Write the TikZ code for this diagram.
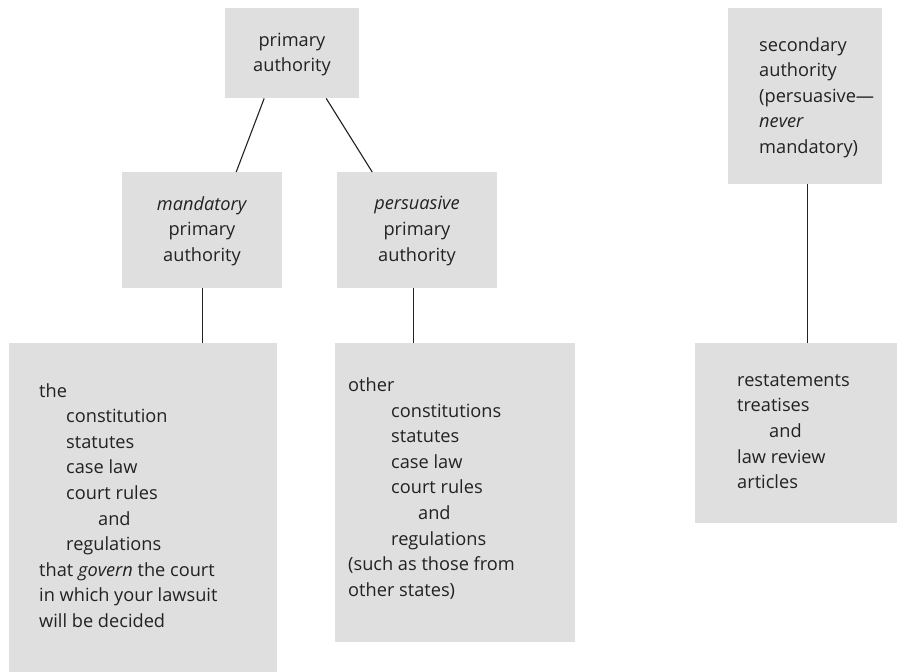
\documentclass[tikz,border=0pt]{standalone}
\usepackage{fontspec}
\setmainfont{Open Sans}
\usetikzlibrary{calc}
\definecolor{boxgrey}{HTML}{DFDFDF}
\definecolor{ink}{HTML}{222222}
\tikzset{
  greybox/.style={fill=boxgrey, draw=none, inner sep=0pt, anchor=north west},
  txt/.style={text=ink, font=\fontsize{18.2}{25.6}\selectfont, inner sep=0pt},
  link/.style={draw=ink, line width=1.1pt}
}
\begin{document}
\begin{tikzpicture}[x=1pt,y=-1pt]
\useasboundingbox (0,0) rectangle (897,672);
% boxes
\node[greybox, minimum width=134pt, minimum height=90pt] (top) at (225,8) {};
\node[greybox, minimum width=160pt, minimum height=116pt] (mand) at (122,172) {};
\node[greybox, minimum width=160pt, minimum height=116pt] (pers) at (337,172) {};
\node[greybox, minimum width=154pt, minimum height=176pt] (sec) at (728,8) {};
\node[greybox, minimum width=268pt, minimum height=332pt] (botL) at (9,343) {};
\node[greybox, minimum width=240pt, minimum height=299pt] (botM) at (335,343) {};
\node[greybox, minimum width=202pt, minimum height=180pt] (botR) at (695,343) {};
% texts
\node[txt, align=center] (topT) at (292,54.5) {primary\\authority};
\node[txt, align=center] (mandT) at (202,231) {\textit{mandatory}\\primary\\authority};
\node[txt, align=center] (persT) at (417,231) {\textit{persuasive}\\primary\\authority};
\node[txt, align=left, anchor=west] (secT) at (759,97.5) {secondary\\authority\\(persuasive\textemdash\\\textit{never}\\mandatory)};
\node[txt, align=left, anchor=west] (botLT) at (39,505.5) {the\\
\hspace*{27pt}constitution\\
\hspace*{27pt}statutes\\
\hspace*{27pt}case law\\
\hspace*{27pt}court rules\\
\hspace*{59pt}and\\
\hspace*{27pt}regulations\\
that \textit{govern} the court\\
in which your lawsuit\\
will be decided};
\node[txt, align=left, anchor=west] (botMT) at (348,488.5) {other\\
\hspace*{43pt}constitutions\\
\hspace*{43pt}statutes\\
\hspace*{43pt}case law\\
\hspace*{43pt}court rules\\
\hspace*{70pt}and\\
\hspace*{43pt}regulations\\
(such as those from\\
other states)};
\node[txt, align=left, anchor=west] (botRT) at (737,431.5) {restatements\\
treatises\\
\hspace*{32pt}and\\
law review\\
articles};
% connectors
\draw[link] ([xshift=-28pt]top.south) -- ([xshift=34pt]mand.north);
\draw[link] ([xshift=34pt]top.south) -- ([xshift=-45pt]pers.north);
\draw[link] (mand.south) -- (mand.south |- botL.north);
\draw[link] ([xshift=-4pt]pers.south) -- ([xshift=-4pt]pers.south |- botM.north);
\draw[link] ([xshift=2pt]sec.south) -- ([xshift=2pt]sec.south |- botR.north);
\end{tikzpicture}
\end{document}
